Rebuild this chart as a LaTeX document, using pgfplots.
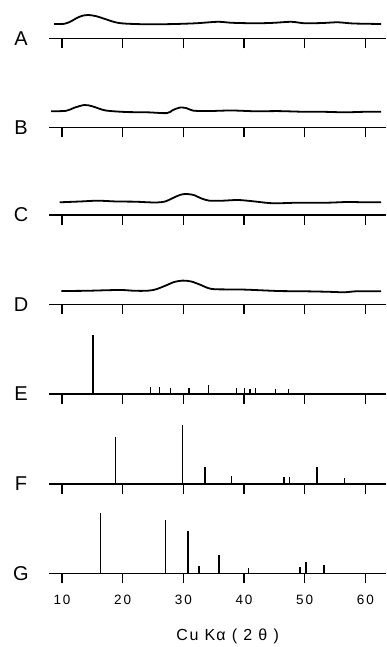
\documentclass[border=0pt]{standalone}
\usepackage{fontspec}
\setmainfont{Liberation Sans}
\usepackage{pgfplots}
\pgfplotsset{compat=1.18}
\pgfplotsset{
  panel/.style={
    scale only axis, width=337pt, height=70pt,
    xmin=7.86, xmax=63.4, ymin=0, ymax=70,
    axis x line=bottom, axis y line=none,
    axis line style={-, line width=1.4pt, black},
    xtick={10,20,...,60}, xtick align=outside,
    major tick length=10pt,
    every tick/.style={line width=1.2pt, black},
    xticklabels={},
    clip=false, anchor=south west,
  },
  trace/.style={black, line width=1.8pt, smooth, tension=0.5, no marks},
  stick/.style={black, ycomb, line width=1.4pt, no marks},
}
\newcommand{\plabel}[1]{\node[font=\fontsize{20}{20}\selectfont] at (axis cs:3.25,0) {#1};}
\begin{document}
\begin{tikzpicture}
\useasboundingbox (0,0) rectangle (386pt,647pt);
% A
\begin{axis}[panel, at={(49pt,608.7pt)}]
\addplot[trace] coordinates {(8.7,14.3) (10.4,14.5) (11.5,17) (12.5,20.5) (13.5,22.8) (14.3,23.3) (15.5,22.3) (17,19.5) (18.5,16.5) (19.5,15.2) (21,14.5) (24,14) (28,14.2) (32,15) (35.7,16.5) (38,15.5) (42,15) (45,15.5) (47.8,16.5) (50,15) (53,15.3) (55.5,16) (58,14.8) (62.6,14.3)};
\plabel{A}
\end{axis}
% B
\begin{axis}[panel, at={(49pt,519.7pt)}]
\addplot[trace] coordinates {(8.2,16) (10.7,16.5) (12,19.5) (13.7,22.3) (15,21) (16.2,18.5) (17.2,16.8) (19,15.8) (21,15.2) (24,15) (27.3,14.2) (28.2,17) (29.4,19.7) (30.5,19.2) (31.6,16.7) (34,16.2) (37.9,16.8) (42,16) (45.6,16.2) (50,15.5) (53,15.5) (56.6,15) (60,15.5) (62.6,15.5)};
\plabel{B}
\end{axis}
% C
\begin{axis}[panel, at={(49pt,432pt)}]
\addplot[trace] coordinates {(9.6,12.7) (13,13.5) (15.9,14.3) (19,13.5) (22,13.3) (25.3,12.5) (27,13.5) (28.3,17) (29.5,20.2) (30.5,21) (31.7,20) (33,16.5) (34.3,14.3) (36.5,14.3) (39,15) (41.5,13.7) (44,12) (45.6,11.7) (49,12.3) (53.8,12.3) (57,13) (60,12.7) (62.6,12.7)};
\plabel{C}
\end{axis}
% D
\begin{axis}[panel, at={(49pt,342.7pt)}]
\addplot[trace] coordinates {(9.9,13.3) (14,13.5) (17,14) (19.8,14.3) (22,13.5) (24.2,13.6) (25.5,15) (27,18.5) (28.5,22.3) (29.9,23.7) (31.3,22.8) (32.8,19.5) (34.2,16) (35.5,15) (40,14.7) (45.6,13.3) (50,13) (54,12.5) (56.6,12) (58.5,13) (62.6,13)};
\plabel{D}
\end{axis}
% E
\begin{axis}[panel, at={(49pt,253pt)}]
\addplot[stick] coordinates {(15.1,59) (24.6,7) (26.1,7) (27.9,6.3) (30.9,6.3) (34.1,9) (38.8,5.7) (40.1,5.7) (41.0,5.3) (41.9,5.7) (45.2,5) (47.3,5)};
\plabel{E}
\end{axis}
% F
\begin{axis}[panel, at={(49pt,163pt)}]
\addplot[stick] coordinates {(18.8,47.3) (29.9,59) (33.6,17.3) (37.9,8.3) (46.6,7) (47.5,7) (52.0,17.3) (56.6,5.7)};
\plabel{F}
\end{axis}
% G
\begin{axis}[panel, at={(49pt,73.7pt)},
  xticklabels={10,20,30,40,50,60},
  xticklabel style={yshift=-8pt, font=\fontsize{13.5}{13.5}\selectfont\addfontfeature{LetterSpace=14}},
  xlabel={Cu K\kern1ptα ( 2 θ )},
  xlabel style={at={(axis cs:37.3,0)}, anchor=center, yshift=-63pt,
    font=\fontsize{16}{16}\selectfont\addfontfeature{LetterSpace=11}},
]
\addplot[stick] coordinates {(16.3,60) (27.1,53.3) (30.8,42.3) (32.6,7.3) (35.9,18.3) (40.7,5.7) (49.2,6.7) (50.2,11) (53.2,8.3)};
\plabel{G}
\end{axis}
\end{tikzpicture}
\end{document}
